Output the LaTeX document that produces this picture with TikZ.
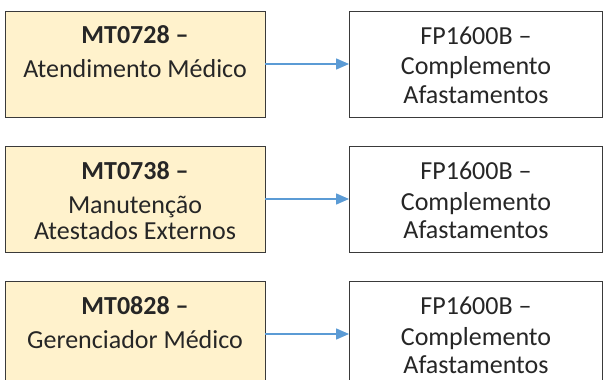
\documentclass[tikz,border=0pt]{standalone}
\usepackage{fontspec}
\setmainfont{Carlito}
\usepackage{tikz}
\usetikzlibrary{arrows.meta,positioning}

\definecolor{srcfill}{HTML}{FFF2CC}
\definecolor{linkblue}{HTML}{5B9BD5}
\definecolor{boxline}{HTML}{3A3A3A}
\definecolor{textgray}{HTML}{262626}

% text block, top aligned inside a box
\newcommand{\boxtext}[2]{\parbox[c][106pt][t]{250pt}{\centering
    \fontsize{26pt}{26pt}\selectfont\rule{0pt}{#1}#2}}

\begin{document}
\begin{tikzpicture}[node distance=135pt,
        every node/.style={text=textgray},
        src/.style={draw=boxline,fill=srcfill,line width=0.9pt,inner sep=0pt,
            minimum width=260pt,minimum height=106pt},
        dst/.style={draw=boxline,fill=white,line width=0.9pt,inner sep=0pt,
            minimum width=253pt,minimum height=106pt},
        link/.style={-{Triangle[length=13pt,width=11pt]},color=linkblue,
            line width=1.4pt}]

  \useasboundingbox (0pt,0pt) rectangle (603pt,-380pt);

  \node[src] (mt0728) at (135pt,-64pt)
        {\boxtext{32pt}{\textbf{MT0728 –}\\[8pt]Atendimento Médico}};
  \node[src] (mt0738) [below of=mt0728]
        {\boxtext{33pt}{\textbf{MT0738 –}\\[8pt]Manutenção\\Atestados Externos}};
  \node[src] (mt0828) [below of=mt0738]
        {\boxtext{33pt}{\textbf{MT0828 –}\\[8pt]Gerenciador Médico}};

  \node[dst] (fp1) [right of=mt0728,node distance=341pt]
        {\boxtext{33pt}{FP1600B –\\[5pt]Complemento\\[2pt]Afastamentos}};
  \node[dst] (fp2) [right of=mt0738,node distance=341pt]
        {\boxtext{33pt}{FP1600B –\\[5pt]Complemento\\[2pt]Afastamentos}};
  \node[dst] (fp3) [right of=mt0828,node distance=341pt]
        {\boxtext{33pt}{FP1600B –\\[5pt]Complemento\\[2pt]Afastamentos}};

  \draw[link] (mt0728) -- (fp1);
  \draw[link] (mt0738) -- (fp2);
  \draw[link] (mt0828) -- (fp3);

\end{tikzpicture}
\end{document}
